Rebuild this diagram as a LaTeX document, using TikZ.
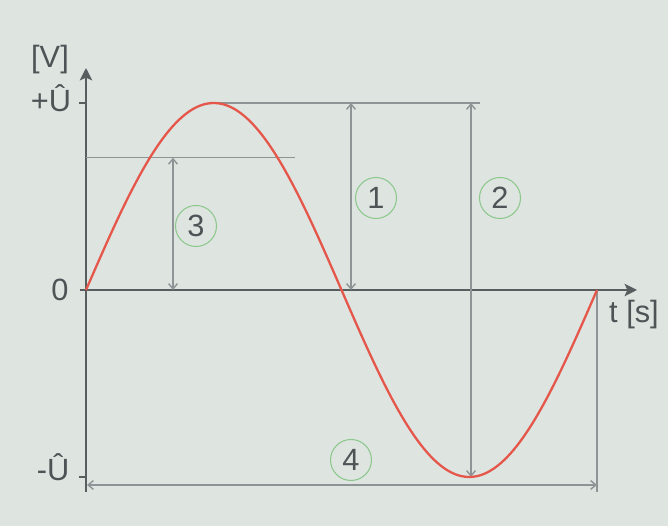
\documentclass[tikz,border=0pt]{standalone}
\usepackage{fontspec}
\setmainfont{Liberation Sans}
\usetikzlibrary{arrows.meta}
\definecolor{bgpanel}{HTML}{DEE4E0}
\definecolor{axisgray}{HTML}{585D60}
\definecolor{dimgray}{HTML}{8E9496}
\definecolor{sinered}{HTML}{E5564B}
\definecolor{ringgreen}{HTML}{8CC88C}
\definecolor{labelgray}{HTML}{4E5356}
\tikzset{
  axisline/.style={line width=1.6pt, color=axisgray},
  dimline/.style={line width=0.8pt, color=dimgray},
  dimarrow/.style={dimline, {Straight Barb[length=3pt,width=5pt]}-{Straight Barb[length=3pt,width=5pt]}},
  ring/.style={circle, draw=ringgreen, line width=0.6pt, minimum size=0.82cm, inner sep=0pt,
    text=labelgray, font=\fontsize{17.5}{17.5}\selectfont},
  axislabel/.style={text=labelgray, font=\fontsize{17.5}{17.5}\selectfont, inner sep=0pt}
}

\begin{document}
\begin{tikzpicture}
			%%%%% START %%%%%
			
			\fill[bgpanel] (-1.72, -4.72) rectangle (11.64, 5.8);
			
			\coordinate (O) at (0, 0);
			\coordinate (peak) at (2.555, 3.74);
			\coordinate (trough) at (7.665, -3.74);
			\coordinate (tend) at (10.22, 0);
			
			% axes
			\draw[axisline, -{Stealth[length=7pt,width=7pt,inset=1.5pt]}] (0, -4.04) -- (0, 4.44);
			\draw[axisline, -{Stealth[length=7pt,width=7pt,inset=1.5pt]}] (-0.12, 0) -- (11.02, 0);
			\draw[axisline] (-0.14, 3.74) -- (0, 3.74);
			\draw[axisline] (-0.14, -3.74) -- (0, -3.74);
			
			\node[axislabel] (vlab) at (-0.72, 4.6) {[V]};
			\node[axislabel] (uplus) at (-0.7, 3.84) {+Û};
			\node[axislabel] (zero) at (-0.52, 0) {0};
			\node[axislabel] (uminus) at (-0.66, -3.54) {-Û};
			\node[axislabel] (tlab) at (10.96, -0.5) {t [s]};
			
			% guide lines
			\draw[dimline] (peak) -- (7.88, 3.74);
			\draw[dimline] (0, 2.645) -- (4.18, 2.645);
			\draw[dimline] (tend) -- (10.22, -4.04);
			
			% dimension arrows
			\coordinate (a3top) at (1.74, 2.645);
			\coordinate (a3bot) at (1.74, 0);
			\coordinate (a1top) at (5.3, 3.74);
			\coordinate (a1bot) at (5.3, 0);
			\coordinate (a2top) at (7.7, 3.74);
			\coordinate (a2bot) at (7.7, -3.74);
			\coordinate (a4left) at (0.02, -3.9);
			\coordinate (a4right) at (10.22, -3.9);
			\draw[dimarrow] (a3bot) -- (a3top);
			\draw[dimarrow] (a1bot) -- (a1top);
			\draw[dimarrow] (a2bot) -- (a2top);
			\draw[dimarrow] (a4left) -- (a4right);
			
			% sine
			\draw[sinered, line width=1.3pt, domain=0:10.22, samples=120, smooth]
				plot (\x, {3.74*sin(\x*360/10.22)});
			
			\node[ring] (n1) at (5.8, 1.84) {1};
			\node[ring] (n2) at (8.28, 1.84) {2};
			\node[ring] (n3) at (2.2, 1.28) {3};
			\node[ring] (n4) at (5.3, -3.4) {4};
			
			%%%%% END %%%%%
\end{tikzpicture}
\end{document}
